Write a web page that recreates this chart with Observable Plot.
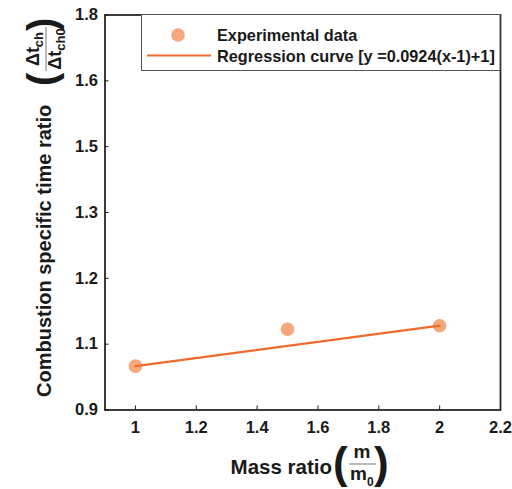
<!DOCTYPE html>
<html>
<head>
<meta charset="utf-8">
<script src="https://cdn.jsdelivr.net/npm/d3@7"></script>
<script src="https://cdn.jsdelivr.net/npm/@observablehq/plot@0.6"></script>
<style>
  body { margin: 0; background: #fff; }
</style>
</head>
<body>
<div id="chart"></div>
<script>
// Measured combustion time ratios against mass ratio
const massRatio = [1, 1.5, 2];
const timeRatio = [1.0, 1.084, 1.092];

// Linear regression: y = 0.0924 (x - 1) + 1, drawn over the measured range
const slope = 0.0924;
const fitRange = [1, 2];

// Axis ticks and the labels printed beside them
const yTickValues = [0.9, 1.05, 1.2, 1.35, 1.5, 1.65, 1.8];
const yTickLabels = ["0.9", "1.1", "1.2", "1.3", "1.5", "1.6", "1.8"];
const xTickValues = [1, 1.2, 1.4, 1.6, 1.8, 2, 2.2];
const xTickLabels = ["1", "1.2", "1.4", "1.6", "1.8", "2", "2.2"];

const legendLabels = ["Experimental data", "Regression curve [y =0.0924(x-1)+1]"];

const dotColor = "#f5a87b";
const lineColor = "#f26a2b";
const font = '"Liberation Sans", Arial, Helvetica, sans-serif';

const points = massRatio.map((x, i) => ({x, y: timeRatio[i]}));
const fit = fitRange.map(x => ({x, y: slope * (x - 1) + 1}));

const chart = Plot.plot({
  width: 512,
  height: 489,
  marginLeft: 104.5,
  marginRight: 12,
  marginTop: 14.5,
  marginBottom: 79.5,
  x: {domain: [0.9, 2.2]},
  y: {domain: [0.9, 1.8]},
  style: {fontFamily: font, fontSize: "16.5px", fontWeight: "bold", color: "#1a1a1a", background: "#fff"},
  marks: [
    Plot.axisY(yTickValues, {
      tickSize: -4, tickPadding: 11, label: null,
      tickFormat: d => yTickLabels[yTickValues.indexOf(d)]
    }),
    Plot.axisX(xTickValues, {
      tickSize: -4, tickPadding: 15, label: null,
      tickFormat: d => xTickLabels[xTickValues.indexOf(d)]
    }),
    Plot.dot(points, {x: "x", y: "y", r: 6.8, fill: dotColor}),
    Plot.line(fit, {x: "x", y: "y", stroke: lineColor, strokeWidth: 2.2}),
    Plot.frame({stroke: "#1a1a1a", strokeWidth: 1.7})
  ]
});

document.getElementById("chart").append(chart);

const svg = d3.select(chart);

// Legend box in the upper part of the frame
const legend = svg.append("g").attr("text-anchor", "start");
legend.append("rect")
  .attr("x", 141.5).attr("y", 14.5).attr("width", 358.5).attr("height", 56)
  .attr("fill", "#fff").attr("stroke", "#555").attr("stroke-width", 1);
legend.append("circle")
  .attr("cx", 178).attr("cy", 35).attr("r", 6.8).attr("fill", dotColor);
legend.append("line")
  .attr("x1", 147).attr("x2", 211).attr("y1", 55.5).attr("y2", 55.5)
  .attr("stroke", lineColor).attr("stroke-width", 2.2);
legend.selectAll("text.item").data(legendLabels).join("text")
  .attr("class", "item")
  .attr("x", 217).attr("y", (d, i) => 41 + i * 21)
  .attr("text-anchor", "start")
  .attr("font-family", font).attr("font-size", 16.3).attr("font-weight", "bold")
  .attr("fill", "#1a1a1a")
  .text(d => d);

// Helper for bold text pieces of the axis titles
function label(g, txt, x, y, size, anchor = "start") {
  return g.append("text")
    .attr("x", x).attr("y", y)
    .attr("font-family", font).attr("font-size", size).attr("font-weight", "bold")
    .attr("fill", "#1a1a1a").attr("text-anchor", anchor)
    .text(txt);
}

// X title: Mass ratio (m / m0)
const xt = svg.append("g");
label(xt, "Mass ratio", 332, 474, 20.5, "end");
label(xt, "(", 333, 478, 44);
label(xt, ")", 374, 478, 44);
label(xt, "m", 362, 458, 19, "middle");
xt.append("line").attr("x1", 349).attr("x2", 376).attr("y1", 464).attr("y2", 464)
  .attr("stroke", "#777").attr("stroke-width", 1);
const den = label(xt, "m", 350, 480, 19);
den.append("tspan").attr("font-size", 12).attr("dy", 6).text("0");

// Y title: Combustion specific time ratio (Δt_ch / Δt_ch0), rotated
const yt = svg.append("g");
function rot(g, txt, sx, sy, size, anchor = "start") {
  return g.append("text")
    .attr("transform", `translate(${sx},${sy}) rotate(-90)`)
    .attr("font-family", font).attr("font-size", size).attr("font-weight", "bold")
    .attr("fill", "#1a1a1a").attr("text-anchor", anchor)
    .text(txt);
}
rot(yt, "Combustion specific time ratio", 51, 397, 20);
rot(yt, "(", 56, 86, 40);
rot(yt, ")", 56, 31, 40);
const num = rot(yt, "Δt", 39, 49, 18, "middle");
num.append("tspan").attr("font-size", 13).attr("dy", 4).text("ch");
yt.append("line").attr("x1", 46).attr("x2", 46).attr("y1", 27).attr("y2", 71)
  .attr("stroke", "#777").attr("stroke-width", 1);
const dn = rot(yt, "Δt", 61, 49, 18, "middle");
dn.append("tspan").attr("font-size", 13).attr("dy", 4).text("ch0");
</script>
</body>
</html>
